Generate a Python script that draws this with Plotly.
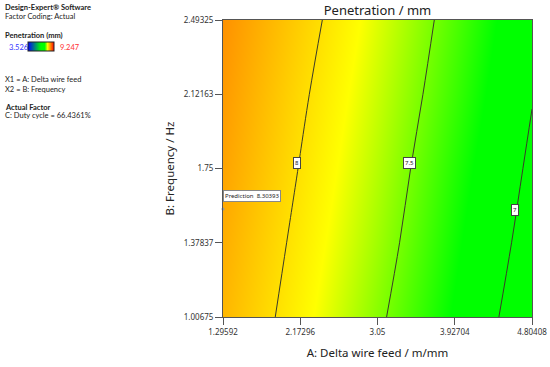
import plotly.graph_objects as go

# ---- data ----
x_ticks = [1.29592, 2.17296, 3.05, 3.92704, 4.80408]
y_ticks = [1.00675, 1.37837, 1.75, 2.12163, 2.49325]
x_labels = ["1.29592", "2.17296", "3.05", "3.92704", "4.80408"]
y_labels = ["1.00675", "1.37837", "1.75", "2.12163", "2.49325"]

# Penetration (mm) estimated at the tick grid; rows = y_ticks (bottom->top)
penetration = [
    [8.23, 7.89, 7.54, 7.20, 6.85],
    [8.28, 7.94, 7.60, 7.25, 6.91],
    [8.34, 7.99, 7.65, 7.30, 6.96],
    [8.39, 8.04, 7.70, 7.36, 7.01],
    [8.44, 8.10, 7.75, 7.41, 7.06],
]
z_min, z_max = 3.526, 9.247
contour_levels = [7.0, 7.5, 8.0]
contour_label_pos = [(4.611, 1.542, "7"), (3.408, 1.777, "7.5"), (2.136, 1.777, "8")]
pred_x = [1.29592]
pred_y = [1.547]
pred_value = "8.30393"

FONT = "Noto Sans"
SIDE_FONT = "Lato"
W, H = 550, 367
# plot area in window pixels: x 223..532, y 20..317
PL, PR, PT, PB = 223, 532, 20, 317
L, T = PL, PT
PW, PH = PR - PL, PB - PT
R, B = W - L - PW, H - T - PH


def px(xp):
    return (xp - PL) / PW


def py(yp):
    return (PB - yp) / PH


def t(v):
    return (v - z_min) / (z_max - z_min)


colorscale = [
    [0.0, "#0000ff"],
    [0.5, "#00ff00"],
    [t(7.22), "#00ff00"],
    [t(7.83), "#ffff00"],
    [1.0, "#ff0000"],
]

fig = go.Figure()
fig.add_trace(go.Heatmap(
    x=x_ticks, y=y_ticks, z=penetration, zsmooth="best",
    colorscale=colorscale, zmin=z_min, zmax=z_max,
    showscale=True,
    colorbar=dict(orientation="h", x=px(28), xanchor="left", y=py(47), yanchor="middle",
                  lenmode="pixels", len=26, thickness=9, xpad=0, ypad=0,
                  showticklabels=False, ticks="", outlinecolor="#222", outlinewidth=1),
    hoverinfo="skip",
))
fig.add_trace(go.Contour(
    x=x_ticks, y=y_ticks, z=penetration,
    contours=dict(start=contour_levels[0], end=contour_levels[-1], size=0.5, coloring="none"),
    line=dict(color="#3a3a2a", width=1), showscale=False, hoverinfo="skip",
))
fig.add_trace(go.Scatter(
    x=pred_x, y=pred_y, mode="markers",
    marker=dict(size=3, color="#999999"), showlegend=False, hoverinfo="skip", cliponaxis=False,
))

ann = []
for (cx, cy, txt) in contour_label_pos:
    ann.append(dict(x=cx, y=cy, xref="x", yref="y", text=txt, showarrow=False,
                    font=dict(family=FONT, size=6, color="#222"), bgcolor="white",
                    bordercolor="#444", borderwidth=1, borderpad=1))
ann.append(dict(x=pred_x[0], y=1.612, xref="x", yref="y", xanchor="left",
                text="Prediction  " + pred_value, showarrow=False,
                font=dict(family=FONT, size=6, color="#222"), bgcolor="white",
                bordercolor="#888", borderwidth=1, borderpad=1))

left_texts = [
    (7, "<b>Design-Expert® Software</b>"),
    (17, "Factor Coding: Actual"),
    (36, "<b>Penetration (mm)</b>"),
    (79, "X1 = A: Delta wire feed"),
    (89, "X2 = B: Frequency"),
    (107, "<b>Actual Factor</b>"),
    (116, "C: Duty cycle = 66.4361%"),
]
for (yy, txt) in left_texts:
    ann.append(dict(x=px(3), y=py(yy), xref="paper", yref="paper", xanchor="left",
                    yanchor="middle", text=txt, showarrow=False,
                    font=dict(family=SIDE_FONT, size=7.5, color="#222")))
ann.append(dict(x=px(7), y=py(47), xref="paper", yref="paper", xanchor="left", yanchor="middle",
                text="3.526", showarrow=False, font=dict(family=SIDE_FONT, size=7.5, color="#3333ff")))
ann.append(dict(x=px(58), y=py(47), xref="paper", yref="paper", xanchor="left", yanchor="middle",
                text="9.247", showarrow=False, font=dict(family=SIDE_FONT, size=7.5, color="#ff3333")))

axis_common = dict(showgrid=False, zeroline=False, showline=True, mirror=True,
                   linecolor="#555", linewidth=1, ticks="outside", ticklen=7,
                   tickcolor="#555", automargin=False,
                   tickfont=dict(family=FONT, size=8, color="#333"))

fig.update_layout(
    width=W, height=H, autosize=False,
    margin=dict(l=L, r=R, t=T, b=B, autoexpand=False),
    paper_bgcolor="white", plot_bgcolor="white",
    title=dict(text="Penetration / mm", x=(L + PW / 2) / W, xanchor="center",
               y=1 - 10 / H, yanchor="middle",
               font=dict(family=FONT, size=13, color="#222")),
    xaxis=dict(range=[x_ticks[0], x_ticks[-1]], tickvals=x_ticks, ticktext=x_labels,
               title=dict(text="A: Delta wire feed / m/mm", standoff=13,
                          font=dict(family=FONT, size=11.5, color="#222")),
               **axis_common),
    yaxis=dict(range=[y_ticks[0], y_ticks[-1]], tickvals=y_ticks, ticktext=y_labels,
               title=dict(text="B: Frequency / Hz", standoff=6,
                          font=dict(family=FONT, size=11.5, color="#222")),
               **axis_common),
    annotations=ann,
    showlegend=False,
)

fig.write_html(
    "out.html",
    config={"displayModeBar": False},
    post_script="document.body.style.margin='0';document.body.style.overflow='hidden';",
)
